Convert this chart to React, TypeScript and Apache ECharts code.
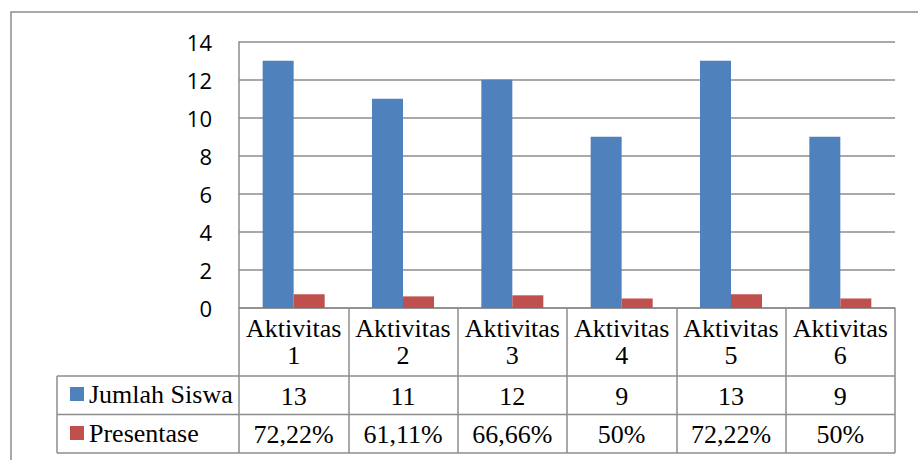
import React, { useEffect, useRef } from "react";
import * as echarts from "echarts";

const categories = ["Aktivitas\n1", "Aktivitas\n2", "Aktivitas\n3", "Aktivitas\n4", "Aktivitas\n5", "Aktivitas\n6"];
const jumlahSiswa = [13, 11, 12, 9, 13, 9];
const presentase = [72.22, 61.11, 66.66, 50, 72.22, 50];
const yTicks = { min: 0, max: 14, interval: 2 };

const GRID = "#8c8c8c";
const SERIF = "Liberation Serif";
const SANS = "Open Sans";

const fmtPct = (v: number) => String(v).replace(".", ",") + "%";

export default function App() {
  const ref = useRef<HTMLDivElement>(null);
  useEffect(() => {
    document.body.style.margin = "0";
    if (!ref.current) return;
    const chart = echarts.init(ref.current, undefined, { renderer: "svg" });
    const tableLabel = (margin: number) => ({
      show: true,
      interval: 0,
      margin,
      verticalAlign: "middle" as const,
      fontFamily: SERIF,
      fontSize: 26,
      lineHeight: 27,
      color: "#000",
    });
    const hiddenAxis = {
      axisLine: { show: false },
      axisTick: { show: false },
      splitLine: { show: false },
    };
    chart.setOption({
      animation: false,
      backgroundColor: "#fff",
      grid: { left: 239, right: 23, top: 41.7, bottom: 152, containLabel: false },
      legend: {
        orient: "vertical",
        left: 65,
        top: 376,
        icon: "rect",
        itemWidth: 14,
        itemHeight: 14,
        itemGap: 13,
        selectedMode: false,
        textStyle: { fontFamily: SERIF, fontSize: 26, color: "#000" },
        data: ["Jumlah Siswa", "Presentase"],
      },
      xAxis: [
        {
          type: "category",
          data: categories,
          position: "bottom",
          axisLine: { show: true, lineStyle: { color: GRID, width: 1.5 } },
          axisTick: { show: true, interval: 0, length: 145, lineStyle: { color: GRID, width: 1.5 } },
          axisLabel: tableLabel(33.5),
          splitLine: { show: false },
        },
        {
          type: "category",
          data: jumlahSiswa.map((v) => String(v)),
          position: "bottom",
          ...hiddenAxis,
          axisLabel: tableLabel(88),
        },
        {
          type: "category",
          data: presentase.map(fmtPct),
          position: "bottom",
          ...hiddenAxis,
          axisLabel: tableLabel(126.5),
        },
      ],
      yAxis: {
        type: "value",
        min: yTicks.min,
        max: yTicks.max,
        interval: yTicks.interval,
        axisLine: { show: true, lineStyle: { color: GRID, width: 1.5 } },
        axisTick: { show: false },
        axisLabel: { margin: 27, fontFamily: SANS, fontSize: 22, color: "#000" },
        splitLine: { show: true, lineStyle: { color: GRID, width: 1.5 } },
      },
      series: [
        {
          name: "Jumlah Siswa",
          type: "bar",
          data: jumlahSiswa,
          barWidth: 31,
          barGap: "0%",
          itemStyle: { color: "#4F81BD" },
        },
        {
          name: "Presentase",
          type: "bar",
          data: presentase.map((v) => v / 100),
          barWidth: 31,
          barGap: "0%",
          itemStyle: { color: "#C0504D" },
        },
      ],
      graphic: [
        {
          type: "rect",
          z: -10,
          shape: { x: 11, y: 12, width: 1000, height: 1000 },
          style: { fill: "none", stroke: GRID, lineWidth: 1.5 },
        },
        ...[376, 414.5, 453].map((y) => ({
          type: "line",
          shape: { x1: 57, y1: y, x2: 895, y2: y },
          style: { stroke: GRID, lineWidth: 1.5 },
        })),
        {
          type: "line",
          shape: { x1: 57, y1: 376, x2: 57, y2: 453 },
          style: { stroke: GRID, lineWidth: 1.5 },
        },
      ],
    });
    return () => chart.dispose();
  }, []);
  return <div ref={ref} style={{ width: 918, height: 460 }} />;
}
